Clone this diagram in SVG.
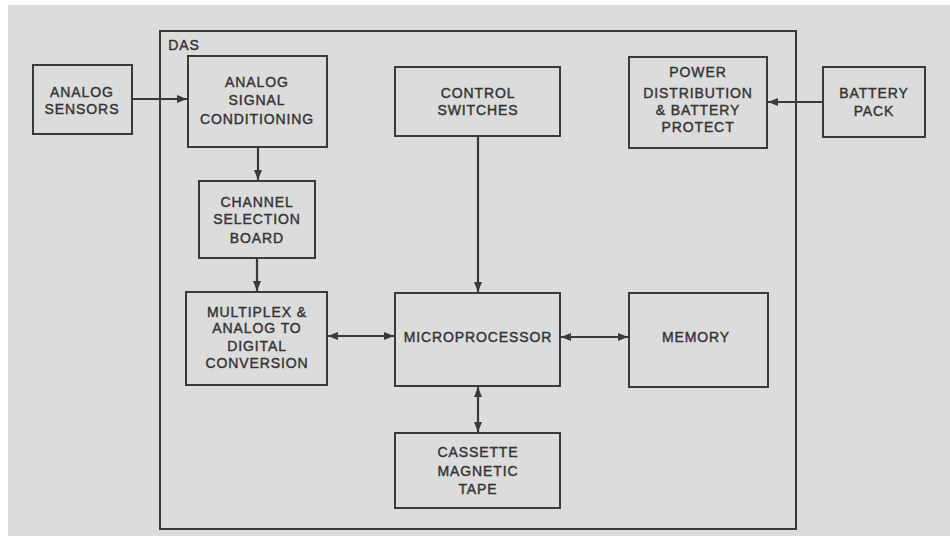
<svg xmlns="http://www.w3.org/2000/svg" width="950" height="536" viewBox="0 0 950 536">
<style>
.bx{fill:none;stroke:#3a3a3a;stroke-width:2}
.t{font-family:"Liberation Sans",Arial,sans-serif;font-size:14px;fill:#333333;stroke:#333333;stroke-width:0.4px;text-anchor:middle;letter-spacing:0.9px}
.c{fill:none;stroke:#3a3a3a;stroke-width:2.2}
</style>
<defs>
<marker id="ah" viewBox="0 0 10 8" refX="10" refY="4" markerWidth="10" markerHeight="8" markerUnits="userSpaceOnUse" orient="auto-start-reverse">
<path d="M0,0 L10,4 L0,8 Z" fill="#3a3a3a"/>
</marker>
</defs>
<rect x="0" y="0" width="950" height="536" fill="#ffffff"/>
<rect x="8" y="5" width="942" height="531" fill="#dcdcdc"/>
<g id="das">
<rect class="bx" x="160" y="31" width="636" height="498"/>
<text class="t" x="184" y="50">DAS</text>
</g>
<g id="analog-sensors">
<rect class="bx" x="33" y="65" width="99" height="69"/>
<text class="t" x="82" y="97">ANALOG</text>
<text class="t" x="82" y="114">SENSORS</text>
</g>
<g id="asc">
<rect class="bx" x="188" y="56" width="139" height="91"/>
<text class="t" x="257" y="87">ANALOG</text>
<text class="t" x="257" y="105">SIGNAL</text>
<text class="t" x="257" y="124">CONDITIONING</text>
</g>
<g id="csb">
<rect class="bx" x="199" y="181" width="116" height="77"/>
<text class="t" x="257" y="207">CHANNEL</text>
<text class="t" x="257" y="224">SELECTION</text>
<text class="t" x="257" y="243">BOARD</text>
</g>
<g id="mux">
<rect class="bx" x="186" y="292" width="141" height="93"/>
<text class="t" x="257" y="317">MULTIPLEX &amp;</text>
<text class="t" x="257" y="333">ANALOG TO</text>
<text class="t" x="257" y="351">DIGITAL</text>
<text class="t" x="257" y="368">CONVERSION</text>
</g>
<g id="control">
<rect class="bx" x="395" y="67" width="165" height="69"/>
<text class="t" x="478" y="98">CONTROL</text>
<text class="t" x="478" y="115">SWITCHES</text>
</g>
<g id="micro">
<rect class="bx" x="395" y="293" width="165" height="93"/>
<text class="t" x="478" y="342">MICROPROCESSOR</text>
</g>
<g id="memory">
<rect class="bx" x="629" y="293" width="139" height="94"/>
<text class="t" x="696" y="342">MEMORY</text>
</g>
<g id="cassette">
<rect class="bx" x="395" y="433" width="165" height="75"/>
<text class="t" x="478" y="457">CASSETTE</text>
<text class="t" x="478" y="476">MAGNETIC</text>
<text class="t" x="478" y="494">TAPE</text>
</g>
<g id="power">
<rect class="bx" x="629" y="57" width="138" height="91"/>
<text class="t" x="698" y="77">POWER</text>
<text class="t" x="698" y="98">DISTRIBUTION</text>
<text class="t" x="698" y="115">&amp; BATTERY</text>
<text class="t" x="698" y="132">PROTECT</text>
</g>
<g id="battery">
<rect class="bx" x="823" y="67" width="102" height="70"/>
<text class="t" x="874" y="98">BATTERY</text>
<text class="t" x="874" y="116">PACK</text>
</g>
<g id="connectors">
<line class="c" x1="132" y1="99" x2="187" y2="99" marker-end="url(#ah)"/>
<line class="c" x1="258" y1="147" x2="258" y2="180" marker-end="url(#ah)"/>
<line class="c" x1="257" y1="258" x2="257" y2="291" marker-end="url(#ah)"/>
<line class="c" x1="328" y1="336" x2="394" y2="336" marker-start="url(#ah)" marker-end="url(#ah)"/>
<line class="c" x1="561" y1="337" x2="628" y2="337" marker-start="url(#ah)" marker-end="url(#ah)"/>
<line class="c" x1="478" y1="387" x2="478" y2="432" marker-start="url(#ah)" marker-end="url(#ah)"/>
<line class="c" x1="478" y1="136" x2="478" y2="292" marker-end="url(#ah)"/>
<line class="c" x1="823" y1="102" x2="768" y2="102" marker-end="url(#ah)"/>
</g>
</svg>
